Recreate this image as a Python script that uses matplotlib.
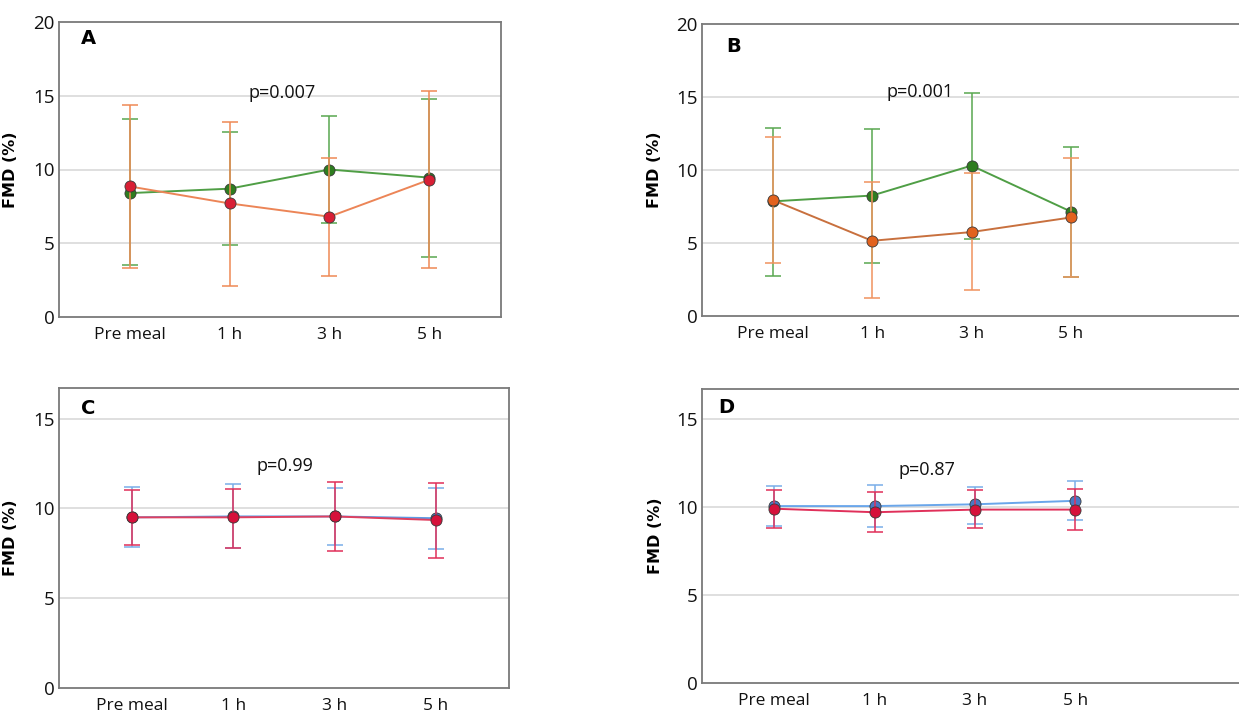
import matplotlib
matplotlib.use("Agg")
import matplotlib.pyplot as plt

plt.rcParams["font.family"] = ["Open Sans", "DejaVu Sans"]

TIMES = ["Pre meal", "1 h", "3 h", "5 h"]

# Panel A
A_GREEN = [8.4, 8.7, 10.0, 9.45]
A_GREEN_LO = [3.5, 4.85, 6.4, 4.1]
A_GREEN_HI = [13.4, 12.55, 13.65, 14.75]
A_ORANGE = [8.85, 7.7, 6.8, 9.3]
A_ORANGE_LO = [3.3, 2.1, 2.8, 3.35]
A_ORANGE_HI = [14.4, 13.25, 10.75, 15.35]

# Panel B
B_GREEN = [7.85, 8.25, 10.3, 7.15]
B_GREEN_LO = [2.75, 3.6, 5.3, 2.7]
B_GREEN_HI = [12.9, 12.8, 15.25, 11.6]
B_ORANGE = [7.95, 5.15, 5.75, 6.75]
B_ORANGE_LO = [3.6, 1.2, 1.75, 2.65]
B_ORANGE_HI = [12.25, 9.15, 9.8, 10.85]

# Panel C
C_BLUE = [9.5, 9.55, 9.55, 9.45]
C_BLUE_LO = [7.85, 7.8, 7.95, 7.75]
C_BLUE_HI = [11.2, 11.35, 11.15, 11.15]
C_RED = [9.5, 9.5, 9.55, 9.35]
C_RED_LO = [7.95, 7.8, 7.6, 7.25]
C_RED_HI = [11.0, 11.1, 11.45, 11.4]

# Panel D
D_BLUE = [10.05, 10.05, 10.15, 10.35]
D_BLUE_LO = [8.9, 8.85, 9.05, 9.25]
D_BLUE_HI = [11.2, 11.25, 11.15, 11.45]
D_RED = [9.9, 9.7, 9.85, 9.85]
D_RED_LO = [8.8, 8.55, 8.8, 8.7]
D_RED_HI = [10.95, 10.85, 10.95, 11.0]

P_TEXT = ["p=0.007", "p=0.001", "p=0.99", "p=0.87"]
LETTERS = ["A", "B", "C", "D"]

W, H = 1239, 713


def px_axes(fig, left, top, right, bottom):
    return fig.add_axes([left / W, 1 - bottom / H, (right - left) / W, (bottom - top) / H])


def draw_series(ax, vals, lo, hi, line_c, err_c, mark_c, z):
    x = list(range(len(vals)))
    yerr = [[v - l for v, l in zip(vals, lo)], [h - v for v, h in zip(vals, hi)]]
    ax.errorbar(x, vals, yerr=yerr, fmt="none", ecolor=err_c, elinewidth=1.3,
                capsize=6, capthick=1.3, alpha=0.85, zorder=z)
    ax.plot(x, vals, color=line_c, lw=1.4, zorder=z + 1)
    ax.plot(x, vals, "o", color=mark_c, ms=8, mec="#3a3a3a", mew=0.6, zorder=z + 2)


def style_axes(ax, ymax, yticks, xlim, label_x):
    ax.set_xlim(*xlim)
    ax.set_ylim(0, ymax)
    ax.set_yticks(yticks)
    ax.set_xticks(range(len(TIMES)))
    ax.set_xticklabels(TIMES)
    ax.tick_params(axis="x", length=0, labelsize=12.5, pad=7, colors="#111111")
    ax.tick_params(axis="y", length=0, labelsize=13.5, pad=3, colors="#111111")
    for t in yticks[1:-1] if ymax == 20 else yticks[1:]:
        ax.axhline(t, color="#d9d9d9", lw=1.2, zorder=0)
    for s in ax.spines.values():
        s.set_color("#7a7a7a")
        s.set_linewidth(1.3)
    ax.set_ylabel("FMD (%)", fontsize=11.5, fontweight="bold", family="DejaVu Sans")
    ax.yaxis.set_label_coords(label_x, 0.5)


fig = plt.figure(figsize=(W / 100, H / 100), dpi=100)

axA = px_axes(fig, 59, 22, 501, 317)
axB = px_axes(fig, 702, 24, 1250, 316)
axC = px_axes(fig, 59, 388, 509, 688)
axD = px_axes(fig, 702, 389, 1250, 683)

style_axes(axA, 20, [0, 5, 10, 15, 20], (-0.71, 3.72), -0.093)
style_axes(axB, 20, [0, 5, 10, 15, 20], (-0.71, 4.80), -0.073)
style_axes(axC, 16.7, [0, 5, 10, 15], (-0.72, 3.72), -0.091)
style_axes(axD, 16.7, [0, 5, 10, 15], (-0.72, 4.74), -0.071)

draw_series(axA, A_GREEN, A_GREEN_LO, A_GREEN_HI, "#4f9e45", "#5aa850", "#2e7d1f", 3)
draw_series(axA, A_ORANGE, A_ORANGE_LO, A_ORANGE_HI, "#ec8557", "#ef8a55", "#d81f35", 6)

draw_series(axB, B_GREEN, B_GREEN_LO, B_GREEN_HI, "#4f9e45", "#5aa850", "#2e7d1f", 3)
draw_series(axB, B_ORANGE, B_ORANGE_LO, B_ORANGE_HI, "#c8703e", "#f0935f", "#e2621e", 6)

draw_series(axC, C_RED, C_RED_LO, C_RED_HI, "#e0405f", "#e0305a", "#d6113b", 6)
draw_series(axC, C_BLUE, C_BLUE_LO, C_BLUE_HI, "#5b9be6", "#7aaee8", "#4a78c4", 3)

draw_series(axD, D_BLUE, D_BLUE_LO, D_BLUE_HI, "#6aa6ea", "#7aaee8", "#4a78c4", 3)
draw_series(axD, D_RED, D_RED_LO, D_RED_HI, "#e0305a", "#e0305a", "#d6113b", 6)

p_pos = [(1.53, 15.2), (1.48, 15.35), (1.51, 12.35), (1.52, 12.1)]
letter_pos = [(0.05, 0.975), (0.045, 0.955), (0.05, 0.965), (0.03, 0.968)]
for ax, txt, (px, py), letter, (lx, ly) in zip([axA, axB, axC, axD], P_TEXT, p_pos, LETTERS, letter_pos):
    ax.text(px, py, txt, ha="center", va="center", fontsize=13, color="#111111", zorder=10)
    ax.text(lx, ly, letter, transform=ax.transAxes, ha="left", va="top",
            fontsize=14, fontweight="bold", family="DejaVu Sans")

fig.savefig("out.png", dpi=100)
